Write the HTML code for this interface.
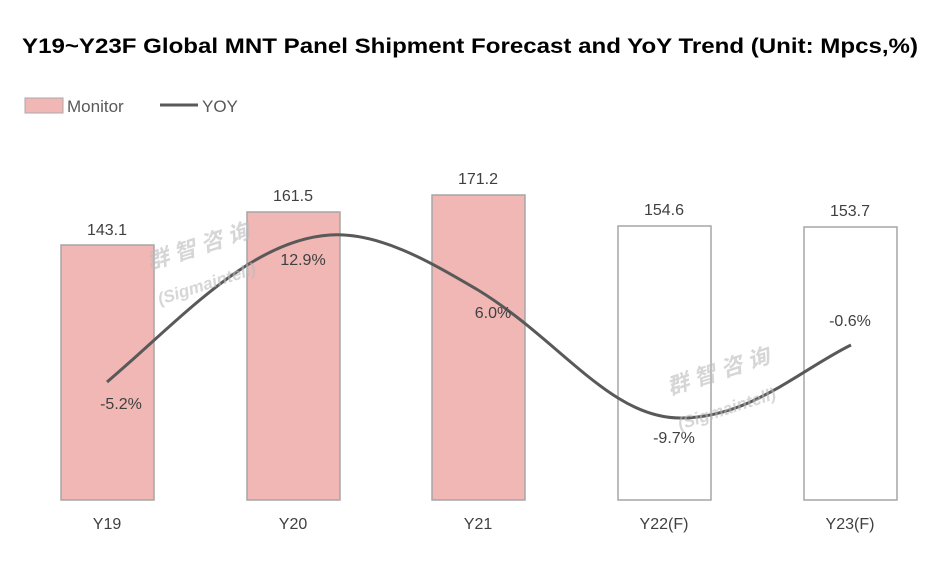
<!DOCTYPE html>
<html><head><meta charset="utf-8"><style>
body{margin:0;background:#fff;width:952px;height:568px;overflow:hidden;font-family:"Liberation Sans","Noto Sans CJK SC",sans-serif;}
</style></head><body>
<svg width="952" height="568" xmlns="http://www.w3.org/2000/svg" font-family="Liberation Sans, Noto Sans CJK SC, sans-serif">
<rect width="952" height="568" fill="#fff"/>
<text x="22" y="53" font-size="21" font-weight="bold" fill="#000" textLength="896" lengthAdjust="spacingAndGlyphs">Y19~Y23F Global MNT Panel Shipment Forecast and YoY Trend (Unit: Mpcs,%)</text>
<rect x="25" y="98" width="38" height="15" fill="#f0b7b4" stroke="#aaa"/>
<text x="67" y="112" font-size="17" fill="#595959">Monitor</text>
<line x1="160" y1="105" x2="198" y2="105" stroke="#595959" stroke-width="3"/>
<text x="202" y="112" font-size="17" fill="#595959">YOY</text>
<g stroke="#a6a6a6" stroke-width="1.5">
<rect x="61" y="245" width="93" height="255" fill="#f0b7b4"/>
<rect x="247" y="212" width="93" height="288" fill="#f0b7b4"/>
<rect x="432" y="195" width="93" height="305" fill="#f0b7b4"/>
<rect x="618" y="226" width="93" height="274" fill="#fff"/>
<rect x="804" y="227" width="93" height="273" fill="#fff"/>
</g>
<g font-size="16" fill="#404040" text-anchor="middle">
<text x="107" y="235">143.1</text><text x="293" y="201">161.5</text><text x="478" y="184">171.2</text><text x="664" y="215">154.6</text><text x="850" y="216">153.7</text>
<text x="107" y="529">Y19</text><text x="293" y="529">Y20</text><text x="478" y="529">Y21</text><text x="664" y="529">Y22(F)</text><text x="850" y="529">Y23(F)</text>
</g>
<path d="M107,382 C180,320 250,240 330,235 C380,232 430,262 478,290 C560,340 610,418 680,418 C750,418 800,370 851,345" fill="none" stroke="#595959" stroke-width="3"/>
<g font-size="16" fill="#404040" text-anchor="middle">
<text x="121" y="409">-5.2%</text><text x="303" y="265">12.9%</text><text x="493" y="318">6.0%</text><text x="674" y="443">-9.7%</text><text x="850" y="326">-0.6%</text>
</g>
<g fill="#bbb" opacity="0.6" font-weight="bold" font-style="italic">
<text x="150" y="270" font-size="22" transform="rotate(-18 150 270)">群 智 咨 询</text>
<text x="160" y="305" font-size="17" transform="rotate(-18 160 305)">(Sigmaintell)</text>
<text x="670" y="395" font-size="22" transform="rotate(-18 670 395)">群 智 咨 询</text>
<text x="680" y="430" font-size="17" transform="rotate(-18 680 430)">(Sigmaintell)</text>
</g>
</svg>
</body></html>
